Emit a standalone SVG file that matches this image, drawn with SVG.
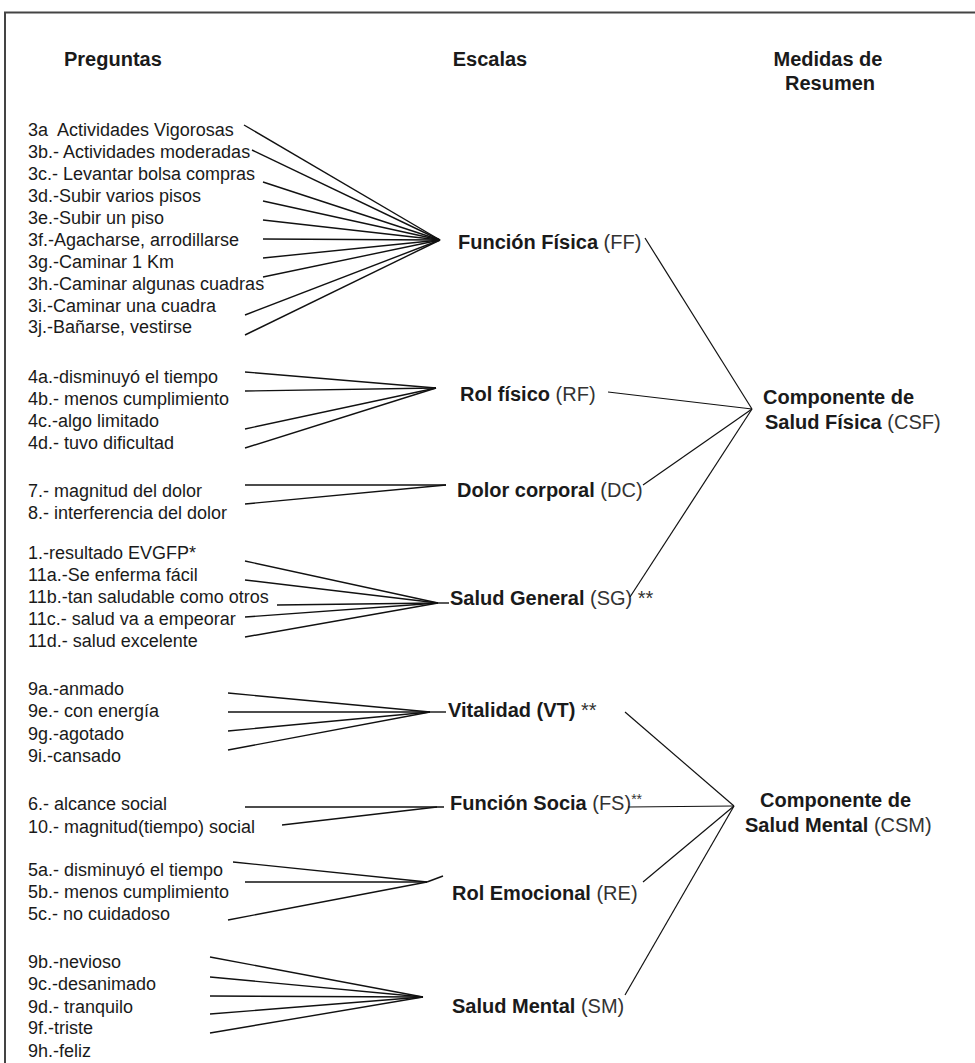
<svg xmlns="http://www.w3.org/2000/svg" width="975" height="1063" viewBox="0 0 975 1063">
<style>
text{font-family:"Liberation Sans",Arial,sans-serif;fill:#1a1a1a}
.h{font-size:20px;font-weight:bold}
.q{font-size:18px}
.s{font-size:20px;font-weight:bold}
.p{font-weight:normal;fill:#333}
.c line{stroke:#111;stroke-width:1.4;fill:none}
.r line{stroke:#111;stroke-width:1.2;fill:none}
</style>
<rect width="975" height="1063" fill="#fff"/>
<g id="frame" stroke="#444" stroke-width="2" fill="none">
<line x1="4" y1="12.5" x2="975" y2="12.5"/>
<line x1="5" y1="12" x2="5" y2="1063"/>
</g>
<g id="headers">
<text id="h-preguntas" class="h" x="64" y="66">Preguntas</text>
<text id="h-escalas" class="h" x="490" y="66" text-anchor="middle">Escalas</text>
<text id="h-medidas" class="h" x="828" y="66" text-anchor="middle">Medidas de</text>
<text id="h-resumen" class="h" x="830" y="90" text-anchor="middle">Resumen</text>
</g>
<g id="questions" class="q">
<text id="q3a" class="q" x="28" y="136">3a&#160; Actividades Vigorosas</text>
<text id="q3b" class="q" x="28" y="158">3b.- Actividades moderadas</text>
<text id="q3c" class="q" x="28" y="180">3c.- Levantar bolsa compras</text>
<text id="q3d" class="q" x="28" y="202">3d.-Subir varios pisos</text>
<text id="q3e" class="q" x="28" y="224">3e.-Subir un piso</text>
<text id="q3f" class="q" x="28" y="246">3f.-Agacharse, arrodillarse</text>
<text id="q3g" class="q" x="28" y="268">3g.-Caminar 1 Km</text>
<text id="q3h" class="q" x="28" y="290">3h.-Caminar algunas cuadras</text>
<text id="q3i" class="q" x="28" y="312">3i.-Caminar una cuadra</text>
<text id="q3j" class="q" x="28" y="333">3j.-Bañarse, vestirse</text>
<text id="q4a" class="q" x="28" y="383">4a.-disminuyó el tiempo</text>
<text id="q4b" class="q" x="28" y="405">4b.- menos cumplimiento</text>
<text id="q4c" class="q" x="28" y="427">4c.-algo limitado</text>
<text id="q4d" class="q" x="28" y="449">4d.- tuvo dificultad</text>
<text id="q7" class="q" x="28" y="497">7.- magnitud del dolor</text>
<text id="q8" class="q" x="28" y="519">8.- interferencia del dolor</text>
<text id="q1" class="q" x="28" y="559">1.-resultado EVGFP*</text>
<text id="q11a" class="q" x="28" y="581">11a.-Se enferma fácil</text>
<text id="q11b" class="q" x="28" y="603">11b.-tan saludable como otros</text>
<text id="q11c" class="q" x="28" y="625">11c.- salud va a empeorar</text>
<text id="q11d" class="q" x="28" y="647">11d.- salud excelente</text>
<text id="q9a" class="q" x="28" y="695">9a.-anmado</text>
<text id="q9e" class="q" x="28" y="717">9e.- con energía</text>
<text id="q9g" class="q" x="28" y="740">9g.-agotado</text>
<text id="q9i" class="q" x="28" y="762">9i.-cansado</text>
<text id="q6" class="q" x="28" y="810">6.- alcance social</text>
<text id="q10" class="q" x="28" y="833">10.- magnitud(tiempo) social</text>
<text id="q5a" class="q" x="28" y="876">5a.- disminuyó el tiempo</text>
<text id="q5b" class="q" x="28" y="898">5b.- menos cumplimiento</text>
<text id="q5c" class="q" x="28" y="920">5c.- no cuidadoso</text>
<text id="q9b" class="q" x="28" y="968">9b.-nevioso</text>
<text id="q9c" class="q" x="28" y="990">9c.-desanimado</text>
<text id="q9d" class="q" x="28" y="1013">9d.- tranquilo</text>
<text id="q9f" class="q" x="28" y="1034">9f.-triste</text>
<text id="q9h" class="q" x="28" y="1057">9h.-feliz</text>
</g>
<g id="scales">
<text id="s-ff" class="s" x="458" y="249">Función Física<tspan class="p"> (FF)</tspan></text>
<text id="s-rf" class="s" x="460" y="401">Rol físico<tspan class="p"> (RF)</tspan></text>
<text id="s-dc" class="s" x="457" y="497">Dolor corporal<tspan class="p"> (DC)</tspan></text>
<text id="s-sg" class="s" x="450" y="605">Salud General<tspan class="p"> (SG) **</tspan></text>
<text id="s-vt" class="s" x="448" y="717">Vitalidad (VT)<tspan class="p"> **</tspan></text>
<text id="s-fs" class="s" x="450" y="810">Función Socia<tspan class="p"> (FS)</tspan><tspan class="p" font-size="14" dy="-6">**</tspan></text>
<text id="s-re" class="s" x="452" y="900">Rol Emocional<tspan class="p"> (RE)</tspan></text>
<text id="s-sm" class="s" x="452" y="1013">Salud Mental<tspan class="p"> (SM)</tspan></text>
</g>
<g id="summary-csf">
<text class="s" x="763" y="404">Componente de</text>
<text class="s" x="765" y="429">Salud Física<tspan class="p"> (CSF)</tspan></text>
</g>
<g id="summary-csm">
<text class="s" x="760" y="807">Componente de</text>
<text class="s" x="745" y="832">Salud Mental<tspan class="p"> (CSM)</tspan></text>
</g>
<g id="connectors">
<g class="c">
<line x1="244" y1="125" x2="440" y2="240"/>
<line x1="252" y1="150" x2="440" y2="240"/>
<line x1="263" y1="182" x2="440" y2="240"/>
<line x1="263" y1="201" x2="440" y2="240"/>
<line x1="263" y1="220" x2="440" y2="240"/>
<line x1="263" y1="239" x2="440" y2="240"/>
<line x1="263" y1="258" x2="440" y2="240"/>
<line x1="263" y1="277" x2="440" y2="240"/>
<line x1="245" y1="315" x2="440" y2="240"/>
<line x1="245" y1="335" x2="440" y2="240"/>

<line x1="245" y1="372" x2="436" y2="388"/>
<line x1="245" y1="391" x2="436" y2="388"/>
<line x1="245" y1="429" x2="436" y2="388"/>
<line x1="245" y1="448" x2="436" y2="388"/>

<line x1="245" y1="485" x2="446" y2="485"/>
<line x1="245" y1="504" x2="446" y2="485"/>

<line x1="245" y1="561" x2="438" y2="603"/>
<line x1="245" y1="580" x2="438" y2="603"/>
<line x1="277" y1="605" x2="438" y2="603"/>
<line x1="245" y1="617" x2="438" y2="603"/>
<line x1="245" y1="637" x2="438" y2="603"/>
<line x1="438" y1="603" x2="449" y2="603"/>

<line x1="228" y1="693" x2="430" y2="712"/>
<line x1="228" y1="712" x2="430" y2="712"/>
<line x1="228" y1="731" x2="430" y2="712"/>
<line x1="228" y1="750" x2="430" y2="712"/>
<line x1="430" y1="712" x2="446" y2="712"/>

<line x1="245" y1="807" x2="444" y2="807"/>
<line x1="282" y1="825" x2="437" y2="807"/>

<line x1="233" y1="862" x2="427" y2="882"/>
<line x1="245" y1="882" x2="427" y2="882"/>
<line x1="228" y1="920" x2="427" y2="882"/>
<line x1="427" y1="882" x2="443" y2="876"/>

<line x1="210" y1="957" x2="423" y2="997"/>
<line x1="210" y1="977" x2="423" y2="997"/>
<line x1="210" y1="996" x2="423" y2="997"/>
<line x1="210" y1="1014" x2="423" y2="997"/>
<line x1="210" y1="1033" x2="423" y2="997"/>
</g>
<g class="r">
<line x1="645" y1="238" x2="752" y2="409"/>
<line x1="608" y1="392" x2="752" y2="409"/>
<line x1="643" y1="485" x2="752" y2="409"/>
<line x1="630" y1="597" x2="752" y2="409"/>

<line x1="625" y1="712" x2="734" y2="806"/>
<line x1="628" y1="807" x2="734" y2="806"/>
<line x1="643" y1="882" x2="734" y2="806"/>
<line x1="625" y1="995" x2="734" y2="806"/>
</g>
</g>
</svg>
